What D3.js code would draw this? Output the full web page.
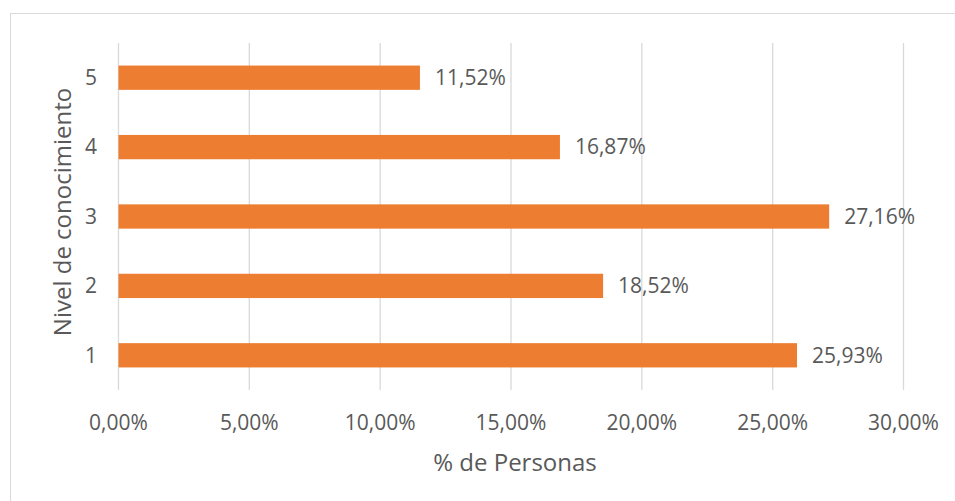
<!DOCTYPE html>
<html><head><meta charset="utf-8">
<script src="https://cdn.jsdelivr.net/npm/d3@7"></script>
<style>body{margin:0;background:#fff}svg{display:block}text{font-family:"Open Sans",sans-serif;fill:#595959}</style>
</head><body><svg id="c" width="955" height="501"></svg>
<script>
const categories = ["1","2","3","4","5"];
const values = [25.93, 18.52, 27.16, 16.87, 11.52];
const labels = ["25,93%","18,52%","27,16%","16,87%","11,52%"];
const ticks = [0,5,10,15,20,25,30];
const tickLabels = ["0,00%","5,00%","10,00%","15,00%","20,00%","25,00%","30,00%"];

const svg = d3.select("#c");
svg.append("rect").attr("x",10.5).attr("y",13.5).attr("width",960).attr("height",520)
  .attr("fill","#fff").attr("stroke","#d9d9d9").attr("stroke-width",1);

const m = {l:118.5, r:903.5, t:43, b:390};
const x = d3.scaleLinear().domain([0,30]).range([m.l,m.r]);
const y = d3.scaleBand().domain(categories.slice().reverse()).range([m.t,m.b]).paddingInner(0.65).paddingOuter(0.325);

svg.append("g").selectAll("line").data(ticks).join("line")
  .attr("x1",d=>x(d)).attr("x2",d=>x(d)).attr("y1",m.t).attr("y2",m.b)
  .attr("stroke","#d9d9d9").attr("stroke-width",1.3);

svg.append("g").selectAll("rect").data(values).join("rect")
  .attr("x",x(0)).attr("y",(d,i)=>y(categories[i]))
  .attr("width",d=>x(d)-x(0)).attr("height",y.bandwidth())
  .attr("fill","#ED7D31");

svg.append("g").selectAll("text").data(values).join("text")
  .attr("x",d=>x(d)+15).attr("y",(d,i)=>y(categories[i])+y.bandwidth()/2)
  .attr("dy","0.35em").attr("font-size",21).text((d,i)=>labels[i]);

svg.append("g").selectAll("text").data(categories).join("text")
  .attr("x",97).attr("y",d=>y(d)+y.bandwidth()/2).attr("dy","0.35em")
  .attr("text-anchor","end").attr("font-size",21).text(d=>d);

svg.append("g").selectAll("text").data(ticks).join("text")
  .attr("x",d=>x(d)).attr("y",423).attr("dy","0.35em")
  .attr("text-anchor","middle").attr("font-size",21).text((d,i)=>tickLabels[i]);

svg.append("text").attr("x",(m.l+m.r)/2+4).attr("y",463).attr("dy","0.35em")
  .attr("text-anchor","middle").attr("font-size",24).text("% de Personas");

svg.append("text").attr("transform","translate(63,212) rotate(-90)").attr("dy","0.35em")
  .attr("text-anchor","middle").attr("font-size",24).text("Nivel de conocimiento");
</script></body></html>
